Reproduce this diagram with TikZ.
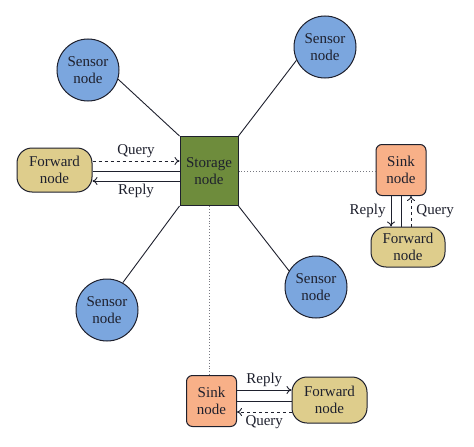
\documentclass[tikz,border=0pt]{standalone}
\usepackage{fontspec}
\setmainfont{Liberation Serif}
\usepackage{xcolor}
\usetikzlibrary{
    arrows.meta,
    shapes,
    calc,
    positioning
}
\definecolor{sensorblue}{RGB}{123,166,222}
\definecolor{storagegreen}{RGB}{110,140,60}
\definecolor{forwardtan}{RGB}{222,205,140}
\definecolor{sinkorange}{RGB}{248,176,136}
\definecolor{ink}{RGB}{30,32,45}

\begin{document}
\begin{tikzpicture}[x=1pt, y=-1pt,
    font=\fontsize{15}{16.5}\selectfont, text=ink,
    >={To[length=5pt,width=8pt]},
    every node/.style={align=center, inner sep=0pt},
    sensor/.style={circle, draw=ink, line width=1pt, fill=sensorblue, minimum size=62pt},
    storage/.style={rectangle, draw=ink, line width=1pt, fill=storagegreen, minimum width=58pt, minimum height=69pt},
    forward/.style={rectangle, rounded corners=15pt, draw=ink, line width=1pt, fill=forwardtan, minimum width=75pt, minimum height=44pt},
    sink/.style={rectangle, rounded corners=6pt, draw=ink, line width=1pt, fill=sinkorange, minimum width=50pt, minimum height=51pt},
    link/.style={draw=ink, line width=0.9pt},
    qry/.style={link, dashed, ->},
    rpl/.style={link, ->},
    hop/.style={draw=ink!60, line width=0.9pt, dotted}
]
    \useasboundingbox (0, 0) rectangle (474, 447);

    \node[storage] (st) at (209, 171) {Storage\\node};
    \node[sensor] (s1) at (88, 70) {Sensor\\node};
    \node[sensor] (s2) at (325, 47) {Sensor\\node};
    \node[sensor] (s3) at (107, 310) {Sensor\\node};
    \node[sensor] (s4) at (316, 287) {Sensor\\node};
    \node[forward] (fl) at (54.5, 170) {Forward\\node};
    \node[sink] (sk1) at (401, 170) {Sink\\node};
    \node[forward, minimum width=74pt, minimum height=40pt] (fr) at (408, 247) {Forward\\node};
    \node[sink] (sk2) at (211.5, 401) {Sink\\node};
    \node[forward, minimum height=46pt] (fb) at (329.5, 400) {Forward\\node};

    % sensors to storage
    \draw[link]
    (s1.-17) -- (st.north west)
    (s2.205) -- (st.north east)
    (s3.60) -- (st.south west)
    (s4.149) -- (st.south east);

    % storage to sinks
    \draw[hop] (st.east) -- (st.east -| sk1.west);
    \draw[hop] (st.south) -- (st.south |- sk2.north);

    % left forward node
    \draw[qry] ([yshift=10pt]st.west -| fl.east) -- node[above=3pt] {Query} ([yshift=10pt]st.west);
    \draw[link] (st.west -| fl.east) -- (st.west);
    \draw[rpl] ([yshift=-10pt]st.west) -- node[below=3pt] {Reply} ([yshift=-10pt]st.west -| fl.east);

    % right sink and forward node
    \draw[rpl] ([xshift=-10pt]sk1.south) -- node[left=5pt] {Reply} ([xshift=-10pt]sk1.south |- fr.north);
    \draw[link] (sk1.south) -- (sk1.south |- fr.north);
    \draw[qry] ([xshift=10pt]sk1.south |- fr.north) -- node[right=5pt] {Query} ([xshift=10pt]sk1.south);

    % bottom sink and forward node
    \draw[rpl] ([yshift=11pt]sk2.east) -- node[above=3pt] {Reply} ([yshift=11pt]sk2.east -| fb.west);
    \draw[link] (sk2.east) -- (sk2.east -| fb.west);
    \draw[qry] ([yshift=-11pt]sk2.east -| fb.west) -- node[below=3pt] {Query} ([yshift=-11pt]sk2.east);
\end{tikzpicture}
\end{document}
